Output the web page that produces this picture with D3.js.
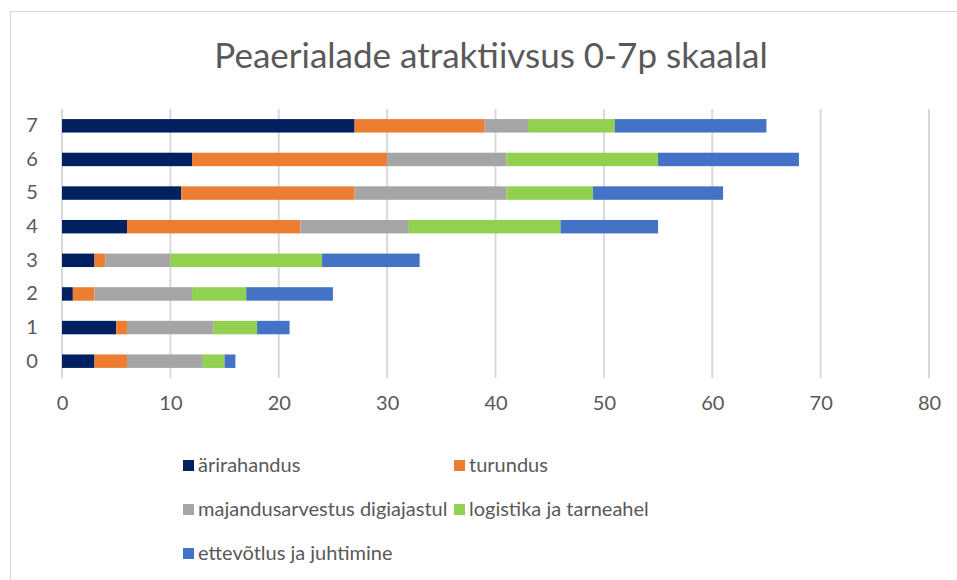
<!DOCTYPE html>
<html lang="et">
<head>
    <meta charset="UTF-8">
    <title>Peaerialade atraktiivsus 0-7p skaalal</title>
    <script src="https://cdnjs.cloudflare.com/ajax/libs/d3/7.8.5/d3.min.js"></script>
    <style>
        body { margin: 0; background: #fff; font-family: Lato, "Open Sans", sans-serif; }
        svg { display: block; }
    </style>
</head>
<body>
    <svg id="chart" width="957" height="580"></svg>
    <script>
        // data
        const categories = ["0", "1", "2", "3", "4", "5", "6", "7"];
        const seriesNames = ["ärirahandus", "turundus", "majandusarvestus digiajastul", "logistika ja tarneahel", "ettevõtlus ja juhtimine"];
        const arirahandus = [3, 5, 1, 3, 6, 11, 12, 27];
        const turundus = [3, 1, 2, 1, 16, 16, 18, 12];
        const majandusarvestus = [7, 8, 9, 6, 10, 14, 11, 4];
        const logistika = [2, 4, 5, 14, 14, 8, 14, 8];
        const ettevotlus = [1, 3, 8, 9, 9, 12, 13, 14];
        const xTicks = [0, 10, 20, 30, 40, 50, 60, 70, 80];
        const colors = ["#002060", "#ed7d31", "#a5a5a5", "#92d050", "#4472c4"];

        const svg = d3.select("#chart");
        const textColor = "#595959";
        const font = "Lato, Open Sans, sans-serif";

        // chart frame
        svg.append("rect")
           .attr("x", 10.5)
           .attr("y", 11.5)
           .attr("width", 960)
           .attr("height", 600)
           .attr("fill", "none")
           .attr("stroke", "#d9d9d9");

        svg.append("text")
           .attr("x", 491)
           .attr("y", 68)
           .attr("text-anchor", "middle")
           .attr("font-size", "35px")
           .attr("fill", textColor)
           .text("Peaerialade atraktiivsus 0-7p skaalal");

        const table = categories.map((c, i) => ({
            cat: c,
            [seriesNames[0]]: arirahandus[i],
            [seriesNames[1]]: turundus[i],
            [seriesNames[2]]: majandusarvestus[i],
            [seriesNames[3]]: logistika[i],
            [seriesNames[4]]: ettevotlus[i]
        }));
        const stacked = d3.stack().keys(seriesNames)(table);

        const x = d3.scaleLinear().domain([0, 80]).range([62, 929]);
        const y = d3.scaleBand().domain(categories.slice().reverse()).range([109, 378]).paddingInner(0.6).paddingOuter(0.3);

        // gridlines
        svg.append("g")
           .selectAll("line")
           .data(xTicks)
           .join("line")
           .attr("x1", d => x(d))
           .attr("x2", d => x(d))
           .attr("y1", 109)
           .attr("y2", 378)
           .attr("stroke", "#d9d9d9")
           .attr("stroke-width", 2);

        svg.append("g")
           .selectAll("g")
           .data(stacked)
           .join("g")
           .attr("fill", (d, i) => colors[i])
           .selectAll("rect")
           .data(d => d)
           .join("rect")
           .attr("x", d => x(d[0]))
           .attr("y", d => y(d.data.cat))
           .attr("width", d => x(d[1]) - x(d[0]))
           .attr("height", y.bandwidth());

        const yAxis = svg.append("g")
           .attr("transform", "translate(32,0)")
           .call(d3.axisLeft(y).tickSize(0).tickPadding(0));
        yAxis.select(".domain").remove();
        yAxis.selectAll("text")
             .attr("text-anchor", "middle")
             .attr("font-family", font)
             .attr("font-size", "20px")
             .attr("fill", textColor);

        const xAxis = svg.append("g")
           .attr("transform", "translate(0,396)")
           .call(d3.axisBottom(x).tickValues(xTicks).tickSize(0).tickPadding(0));
        xAxis.select(".domain").remove();
        xAxis.selectAll("text")
             .attr("font-family", font)
             .attr("font-size", "20px")
             .attr("fill", textColor);

        // legend
        const legendPos = [[183, 465], [454, 465], [183, 509], [454, 509], [183, 553]];
        const legend = svg.append("g")
           .selectAll("g")
           .data(seriesNames)
           .join("g")
           .attr("transform", (d, i) => `translate(${legendPos[i][0]},${legendPos[i][1]})`);
        legend.append("rect")
              .attr("x", 0)
              .attr("y", -5)
              .attr("width", 11)
              .attr("height", 11)
              .attr("fill", (d, i) => colors[i]);
        legend.append("text")
              .attr("x", 15)
              .attr("y", 7)
              .attr("font-size", "20px")
              .attr("fill", textColor)
              .text(d => d);
    </script>
</body>
</html>
